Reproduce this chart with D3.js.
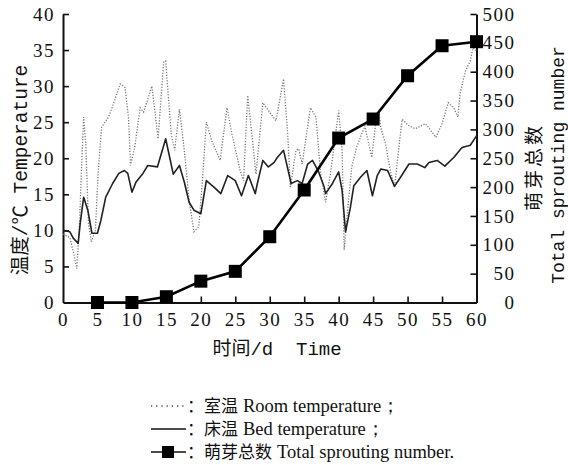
<!DOCTYPE html>
<html>
<head>
<meta charset="utf-8">
<script src="https://cdn.jsdelivr.net/npm/d3@7"></script>
<style>
  body { margin: 0; background: #fff; }
  svg text { fill: #111; }
</style>
</head>
<body>
<div id="chart"></div>
<script>
// days of sprouting counts
const sproutDays = [5, 10, 15, 20, 25, 30, 35, 40, 45, 50, 55, 60];
const sproutCounts = [0, 0, 10, 37, 54, 114, 195, 285, 318, 393, 445, 452];

// bed temperature [day, °C]
const bedTemp = [
  [0,10],[1,9.8],[1.5,8.9],[2.2,8.2],[2.5,11],[3,14.6],[3.6,12.8],[4.2,9.6],[5,9.6],[5.5,11.4],
  [6.2,14.6],[7.2,16.5],[8.1,17.9],[8.9,18.3],[9.4,17.9],[10,15.3],[10.6,16.7],[11.6,17.9],[12.3,19],
  [13.7,18.8],[14.9,22.7],[16,17.8],[16.9,19],[17.6,16.7],[18.3,13.9],[19,12.8],[20,12.3],[20.8,16.9],
  [21.9,16],[22.9,15.1],[23.9,17.6],[25,16.9],[25.9,14.8],[26.9,17.6],[27.9,15.1],[28.2,16.5],[29,19.7],
  [29.8,18.8],[30.6,19.4],[31.1,20.1],[32,21.1],[33.1,16.5],[34,16.9],[34.7,16.5],[35.5,19.2],[36.2,19.7],
  [37.1,18.1],[37.9,16],[38.1,15.1],[39.1,16.5],[40,18.1],[40.5,15.5],[41,9.8],[41.7,13.2],[42.2,16.2],
  [43.2,17.4],[44.1,18.3],[44.9,14.8],[45.6,17.6],[46.1,18.5],[47.1,18.3],[48.1,16.1],[49,17.4],[50.2,19.2],
  [51.4,19.2],[52.5,18.7],[53.1,19.4],[54.3,19.7],[55.4,18.9],[56.7,20.1],[57.9,21.5],[59.1,21.8],[60,23.1]
];

// room temperature [day, °C]
const roomTemp = [
  [0,9.5],[1,9],[1.5,7],[2,4.7],[2.4,11],[2.7,19],[3,25.7],[3.3,22],[3.7,11],[4.1,8.4],[4.7,10],
  [5.1,18],[5.6,24.3],[6.6,25.7],[7.3,27.5],[8.3,30.3],[9,29.8],[9.5,25.7],[9.8,19],[10.4,21.5],[11.2,27],
  [11.7,26.4],[12.9,30],[13.8,22.7],[14.6,33.3],[14.9,33.5],[15.7,23.4],[16.2,21.1],[16.9,26.8],[17.6,21.1],
  [18.3,14.2],[19,9.8],[19.7,10.5],[20.2,16.5],[20.8,25],[21.6,22.4],[22.8,19.7],[23.8,27],[24.5,23.4],
  [25.7,18.3],[26.2,16.9],[26.8,28.7],[27.3,24.3],[28,17.8],[29,27.7],[30.2,26.1],[30.9,25.2],[32,31],
  [32.6,23.4],[33,16],[33.8,21.1],[34.2,21.3],[34.7,19.2],[35.9,27],[36.7,25.7],[37.4,17.8],[38.1,13.9],
  [38.8,17.8],[40,26.6],[40.5,21.1],[40.8,7.3],[41.3,12.8],[41.9,18.8],[42.6,21.5],[43.8,24.5],[44.8,20.1],
  [45.5,25.9],[45.9,26.1],[46.1,24.3],[46.8,22],[47.5,18.3],[48.1,16],[48.7,21.1],[49.2,25.4],[50.2,24.5],
  [51.1,24.1],[52.6,24.8],[53.4,23.8],[54.1,22.9],[55,24.8],[55.9,27.7],[56.7,27],[57.3,25.7],[57.6,28.9],
  [58.4,32.1],[59.1,33.5],[59.5,35.3],[60,34.9]
];

const xTicks = d3.range(0, 61, 5);
const tempTicks = d3.range(0, 41, 5);
const countTicks = d3.range(0, 501, 50);

const legendItems = [
  {type: "room", cn: "：室温", en: "Room temperature；"},
  {type: "bed", cn: "：床温", en: "Bed temperature；"},
  {type: "sprout", cn: "：萌芽总数", en: "Total sprouting number."}
];

const width = 568, height = 465;
const plotL = 63, plotR = 476.5, plotT = 14, plotB = 302.5;
const numFont = "'Liberation Serif', 'DejaVu Serif', serif";
const cjkFont = "'Noto Sans CJK SC', sans-serif";
const serifFont = "'Liberation Serif', serif";
const monoFont = "'Liberation Mono', 'Noto Sans CJK SC', monospace";

const svg = d3.select("#chart").append("svg")
  .attr("width", width)
  .attr("height", height);

const x = d3.scaleLinear().domain([0, 60]).range([plotL, plotR]);
const yT = d3.scaleLinear().domain([0, 40]).range([plotB, plotT]);
const yN = d3.scaleLinear().domain([0, 500]).range([plotB, plotT]);

// axes
const xAxis = svg.append("g")
  .attr("transform", `translate(0,${plotB})`)
  .call(d3.axisBottom(x).tickValues(xTicks).tickSizeInner(-6).tickSizeOuter(0).tickPadding(13));
const lAxis = svg.append("g")
  .attr("transform", `translate(${plotL},0)`)
  .call(d3.axisLeft(yT).tickValues(tempTicks).tickSizeInner(-6).tickSizeOuter(0).tickPadding(8));
const rAxis = svg.append("g")
  .attr("transform", `translate(${plotR},0)`)
  .call(d3.axisRight(yN).tickValues(countTicks).tickSizeInner(-6).tickSizeOuter(0).tickPadding(39));

[xAxis, lAxis, rAxis].forEach(g => {
  g.select(".domain").attr("stroke", "#111").attr("stroke-width", 2);
  g.selectAll(".tick line").attr("stroke", "#111").attr("stroke-width", 1.6);
  g.selectAll(".tick text")
    .attr("font-family", numFont)
    .attr("font-size", 19)
    .attr("letter-spacing", 1.5)
    .attr("fill", "#111");
});
// no tick marks at the corners
xAxis.selectAll(".tick").filter(d => d === 0 || d === 60).select("line").remove();
lAxis.selectAll(".tick").filter(d => d === 0).select("line").remove();
rAxis.selectAll(".tick").filter(d => d === 0).select("line").remove();
rAxis.selectAll(".tick text").attr("text-anchor", "end");
xAxis.selectAll(".tick text").attr("dy", "0.55em");

// room temperature
svg.append("path")
  .datum(roomTemp)
  .attr("fill", "none")
  .attr("stroke", "#777")
  .attr("stroke-width", 1.3)
  .attr("stroke-dasharray", "1.2,1.6")
  .attr("d", d3.line().x(d => x(d[0])).y(d => yT(d[1])));

// bed temperature
svg.append("path")
  .datum(bedTemp)
  .attr("fill", "none")
  .attr("stroke", "#222")
  .attr("stroke-width", 1.6)
  .attr("stroke-linejoin", "round")
  .attr("d", d3.line().x(d => x(d[0])).y(d => yT(d[1])));

// sprouting number
const sprout = sproutDays.map((d, i) => [d, sproutCounts[i]]);
svg.append("path")
  .datum(sprout)
  .attr("fill", "none")
  .attr("stroke", "#000")
  .attr("stroke-width", 2.6)
  .attr("d", d3.line().x(d => x(d[0])).y(d => yN(d[1])));
svg.append("g")
  .selectAll("rect")
  .data(sprout)
  .enter()
  .append("rect")
  .attr("x", d => x(d[0]) - 6.5)
  .attr("y", d => yN(d[1]) - 6.5)
  .attr("width", 13)
  .attr("height", 13)
  .attr("fill", "#000");

// axis titles
svg.append("text")
  .attr("transform", "translate(27,170) rotate(-90)")
  .attr("text-anchor", "middle")
  .attr("font-family", monoFont)
  .attr("font-size", 19.5)
  .text("温度/℃ Temperature");

svg.append("text")
  .attr("transform", "translate(541,167) rotate(-90)")
  .attr("text-anchor", "middle")
  .attr("font-family", cjkFont)
  .attr("font-size", 19)
  .attr("letter-spacing", 3)
  .text("萌芽总数");

svg.append("text")
  .attr("transform", "translate(564,165) rotate(-90)")
  .attr("text-anchor", "middle")
  .attr("font-family", monoFont)
  .attr("font-size", 18)
  .text("Total sprouting number");

svg.append("text")
  .attr("x", 277)
  .attr("y", 355)
  .attr("text-anchor", "middle")
  .attr("font-family", monoFont)
  .attr("font-size", 19)
  .attr("xml:space", "preserve")
  .text("时间/d  Time");

// legend
const legend = svg.append("g").attr("transform", "translate(151,406)");
const rows = legend.selectAll("g")
  .data(legendItems)
  .enter()
  .append("g")
  .attr("transform", (d, i) => `translate(0,${i * 23})`);

rows.append("line")
  .attr("x1", 0).attr("x2", 35)
  .attr("y1", 0).attr("y2", 0)
  .attr("stroke", d => d.type === "room" ? "#444" : "#111")
  .attr("stroke-width", d => d.type === "room" ? 1.4 : 1.5)
  .attr("stroke-dasharray", d => d.type === "room" ? "1.2,4" : null);
rows.filter(d => d.type === "sprout")
  .append("rect")
  .attr("x", 11).attr("y", -6).attr("width", 12).attr("height", 12)
  .attr("fill", "#000");
const labels = rows.append("text")
  .attr("x", 36)
  .attr("y", 6);
labels.append("tspan")
  .attr("font-family", cjkFont)
  .attr("font-size", 17)
  .text(d => d.cn);
labels.append("tspan")
  .attr("dx", 5)
  .attr("font-family", serifFont)
  .attr("font-size", 18.5)
  .text(d => d.en);
</script>
</body>
</html>
